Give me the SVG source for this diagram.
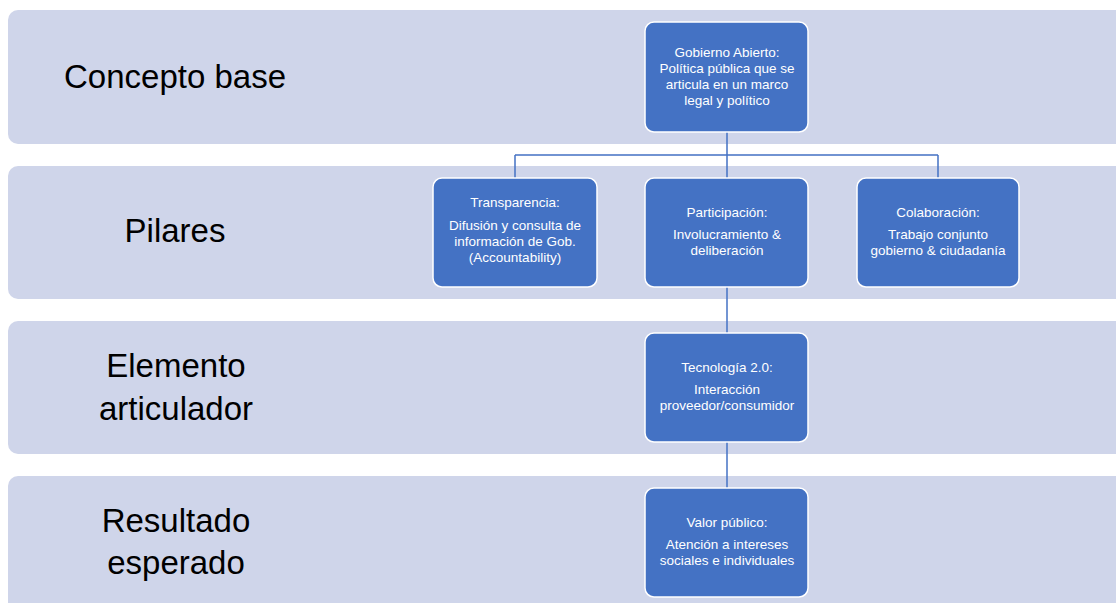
<svg xmlns="http://www.w3.org/2000/svg" width="1116" height="603" viewBox="0 0 1116 603">
<style>
.band{fill:#CFD5EA;}
.lbl{font-family:"Liberation Sans",Arial,sans-serif;font-size:33px;fill:#000;text-anchor:middle;}
.node{fill:#4472C4;stroke:#FFFFFF;stroke-width:1.5;}
.nt{font-family:"Liberation Sans",Arial,sans-serif;font-size:13.5px;fill:#FFFFFF;text-anchor:middle;}
.conn{fill:none;stroke:#4472C4;stroke-width:1.5;}
</style>
<rect width="1116" height="603" fill="#FFFFFF"/>
<g id="bands">
<rect class="band" x="8" y="10" width="1130" height="134" rx="10"/>
<rect class="band" x="8" y="166" width="1130" height="133" rx="10"/>
<rect class="band" x="8" y="321" width="1130" height="133" rx="10"/>
<rect class="band" x="8" y="476" width="1130" height="140" rx="10"/>
<text class="lbl" x="175" y="88">Concepto base</text>
<text class="lbl" x="175" y="242">Pilares</text>
<text class="lbl" x="176" y="377">Elemento</text>
<text class="lbl" x="176" y="420">articulador</text>
<text class="lbl" x="176" y="532">Resultado</text>
<text class="lbl" x="176" y="574">esperado</text>
</g>
<g id="connectors">
<path class="conn" d="M727,132 V155 M515,155 H938 M515,155 V178 M727,155 V178 M938,155 V178"/>
<path class="conn" d="M727,287 V333"/>
<path class="conn" d="M727,442 V488"/>
</g>
<g id="gobierno">
<rect class="node" x="645" y="22" width="163" height="110" rx="9"/>
<text class="nt" x="727" y="57">Gobierno Abierto:</text>
<text class="nt" x="727" y="73">Política pública que se</text>
<text class="nt" x="727" y="89">articula en un marco</text>
<text class="nt" x="727" y="105">legal y político</text>
</g>
<g id="transparencia">
<rect class="node" x="433" y="178" width="164" height="109" rx="9"/>
<text class="nt" x="515" y="207">Transparencia:</text>
<text class="nt" x="515" y="230">Difusión y consulta de</text>
<text class="nt" x="515" y="246">información de Gob.</text>
<text class="nt" x="515" y="262">(Accountability)</text>
</g>
<g id="participacion">
<rect class="node" x="645" y="178" width="163" height="109" rx="9"/>
<text class="nt" x="727" y="217">Participación:</text>
<text class="nt" x="727" y="239">Involucramiento &amp;</text>
<text class="nt" x="727" y="255">deliberación</text>
</g>
<g id="colaboracion">
<rect class="node" x="857" y="178" width="162" height="109" rx="9"/>
<text class="nt" x="938" y="217">Colaboración:</text>
<text class="nt" x="938" y="239">Trabajo conjunto</text>
<text class="nt" x="938" y="255">gobierno &amp; ciudadanía</text>
</g>
<g id="tecnologia">
<rect class="node" x="645" y="333" width="163" height="109" rx="9"/>
<text class="nt" x="727" y="372">Tecnología 2.0:</text>
<text class="nt" x="727" y="394">Interacción</text>
<text class="nt" x="727" y="410">proveedor/consumidor</text>
</g>
<g id="valor">
<rect class="node" x="645" y="488" width="163" height="109" rx="9"/>
<text class="nt" x="727" y="527">Valor público:</text>
<text class="nt" x="727" y="549">Atención a intereses</text>
<text class="nt" x="727" y="565">sociales e individuales</text>
</g>
</svg>
